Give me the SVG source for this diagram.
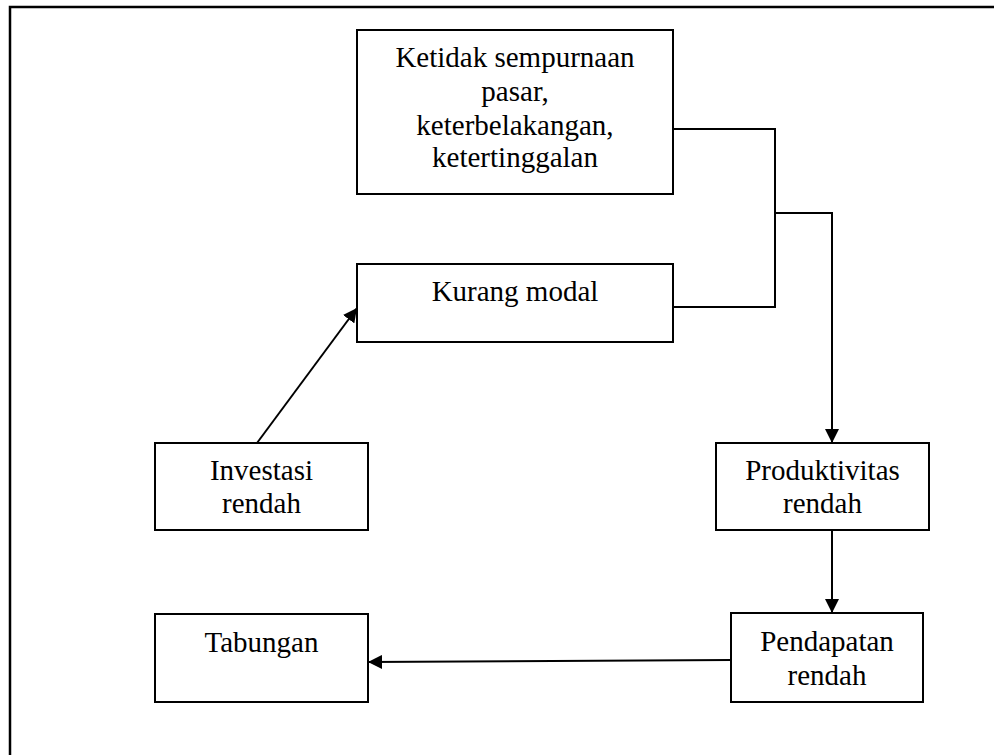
<svg xmlns="http://www.w3.org/2000/svg" width="994" height="755" viewBox="0 0 994 755">
<style>
.box{fill:#fff;stroke:#000;stroke-width:2}
.lbl{font-family:"Liberation Serif","Times New Roman",serif;font-size:29px;fill:#000;text-anchor:middle}
.con{fill:none;stroke:#000;stroke-width:2}
</style>
<defs>
<marker id="arr" viewBox="0 0 14 14" refX="14" refY="7" markerWidth="14" markerHeight="14" markerUnits="userSpaceOnUse" orient="auto">
<path d="M0,0 L14,7 L0,14 Z" fill="#000"/>
</marker>
</defs>
<rect x="0" y="0" width="994" height="755" fill="#fff"/>
<path d="M10,760 L10,7 L1000,7" fill="none" stroke="#000" stroke-width="2.5"/>
<g id="connectors">
<path class="con" d="M673,129 L775,129 L775,307 L673,307"/>
<path class="con" d="M775,213 L832,213 L832,443" marker-end="url(#arr)"/>
<path class="con" d="M832,530 L832,613" marker-end="url(#arr)"/>
<path class="con" d="M731,660 L368,662" marker-end="url(#arr)"/>
<path class="con" d="M257,530 L257,443" marker-end="url(#arr)"/>
<path class="con" d="M257,443 L357,308" marker-end="url(#arr)"/>
</g>
<g id="ketidak">
<rect class="box" x="357" y="30" width="316" height="164"/>
<text class="lbl" x="515" y="67">Ketidak sempurnaan</text>
<text class="lbl" x="515" y="101">pasar,</text>
<text class="lbl" x="515" y="135">keterbelakangan,</text>
<text class="lbl" x="515" y="167">ketertinggalan</text>
</g>
<g id="kurang">
<rect class="box" x="357" y="264" width="316" height="78"/>
<text class="lbl" x="515" y="301">Kurang modal</text>
</g>
<g id="investasi">
<rect class="box" x="155" y="443" width="213" height="87"/>
<text class="lbl" x="261.5" y="480">Investasi</text>
<text class="lbl" x="261.5" y="513">rendah</text>
</g>
<g id="tabungan">
<rect class="box" x="155" y="614" width="213" height="88"/>
<text class="lbl" x="261.5" y="652">Tabungan</text>
</g>
<g id="produktivitas">
<rect class="box" x="716" y="443" width="213" height="87"/>
<text class="lbl" x="822.5" y="480">Produktivitas</text>
<text class="lbl" x="822.5" y="513">rendah</text>
</g>
<g id="pendapatan">
<rect class="box" x="731" y="613" width="192" height="89"/>
<text class="lbl" x="827" y="651">Pendapatan</text>
<text class="lbl" x="827" y="685">rendah</text>
</g>
</svg>
